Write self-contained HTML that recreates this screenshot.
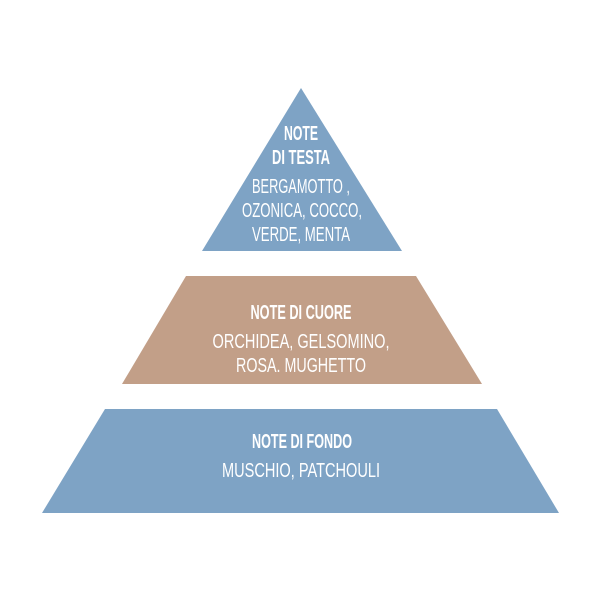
<!DOCTYPE html>
<html><head><meta charset="utf-8"><style>html,body{margin:0;padding:0;background:#fff}</style></head>
<body>
<svg width="600" height="600" viewBox="0 0 600 600" xmlns="http://www.w3.org/2000/svg" font-family="Liberation Sans, sans-serif" fill="#fff">
<rect width="600" height="600" fill="#fff"/>
<polygon points="301,88 402,251 202,251" fill="#7ea3c5"/>
<polygon points="186,276 416,276 482,384 122,384" fill="#c29f88"/>
<polygon points="105,409 497,409 559,513 42,513" fill="#7ea3c5"/>
<g text-anchor="middle">
<text x="301" y="140" font-size="20" font-weight="bold" textLength="34" lengthAdjust="spacingAndGlyphs">NOTE</text>
<text x="301" y="164" font-size="20" font-weight="bold" textLength="58" lengthAdjust="spacingAndGlyphs">DI TESTA</text>
<text x="301" y="193" font-size="20" textLength="98" lengthAdjust="spacingAndGlyphs">BERGAMOTTO ,</text>
<text x="302" y="217" font-size="20" textLength="120" lengthAdjust="spacingAndGlyphs">OZONICA, COCCO,</text>
<text x="301" y="241" font-size="20" textLength="98" lengthAdjust="spacingAndGlyphs">VERDE, MENTA</text>
<text x="301" y="319" font-size="20" font-weight="bold" textLength="101" lengthAdjust="spacingAndGlyphs">NOTE DI CUORE</text>
<text x="301" y="348" font-size="20" textLength="177" lengthAdjust="spacingAndGlyphs">ORCHIDEA, GELSOMINO,</text>
<text x="301" y="372" font-size="20" textLength="130" lengthAdjust="spacingAndGlyphs">ROSA. MUGHETTO</text>
<text x="302" y="448" font-size="20" font-weight="bold" textLength="100" lengthAdjust="spacingAndGlyphs">NOTE DI FONDO</text>
<text x="301" y="477" font-size="20" textLength="158" lengthAdjust="spacingAndGlyphs">MUSCHIO, PATCHOULI</text>
</g>
</svg>
</body></html>
